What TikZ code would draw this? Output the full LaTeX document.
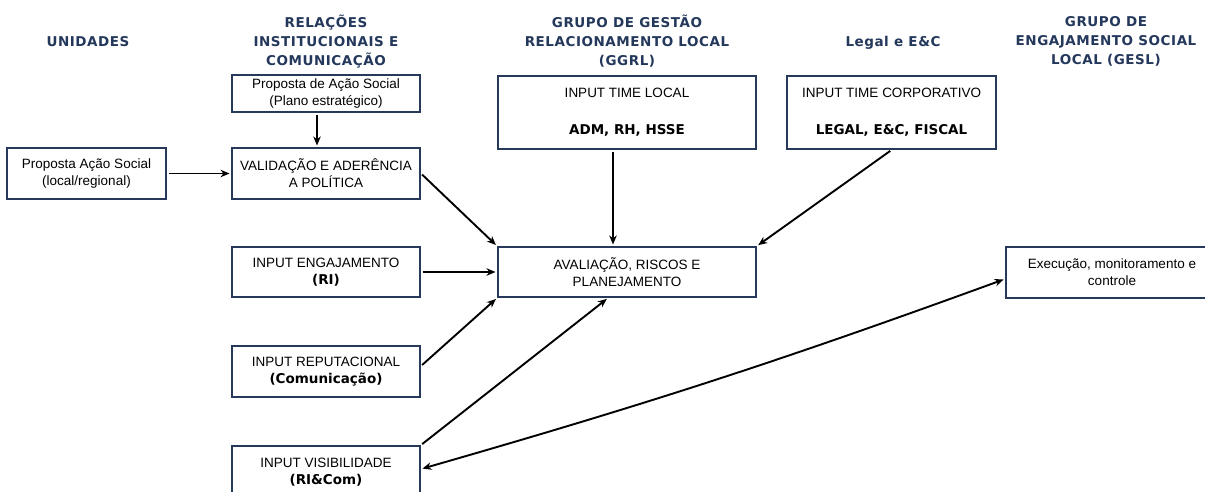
\documentclass[tikz,border=0pt]{standalone}
\usepackage{fontspec}
\setmainfont{Liberation Sans}
\newfontfamily\hdfont{DejaVu Sans}[LetterSpace=4]
\newfontfamily\bdfont{DejaVu Sans}
\usetikzlibrary{arrows.meta}
\definecolor{boxline}{HTML}{26395A}
\definecolor{hdcol}{HTML}{24385C}
\newcommand\bt[1]{{\bdfont\bfseries\fontsize{13.5}{17}\selectfont #1}}
\begin{document}
\begin{tikzpicture}[x=1pt,y=-1pt,
  box/.style={draw=boxline, line width=2pt, fill=white, align=center, inner sep=2pt,
    font=\fontsize{13.5}{17}\selectfont},
  header/.style={align=center, text=hdcol, font=\hdfont\bfseries\fontsize{13.5}{19}\selectfont},
  arr/.style={-{Stealth[length=9pt,width=7.5pt]}, line width=1.9pt, black, shorten <=1.5pt, shorten >=1.5pt},
  arrboth/.style={{Stealth[length=9pt,width=7.5pt]}-{Stealth[length=9pt,width=7.5pt]}, line width=1.9pt, black, shorten <=1.5pt, shorten >=1.5pt}]
\useasboundingbox (0,0) rectangle (1205,491);
\clip (0,0) rectangle (1205,491);
\fill[white] (0,0) rectangle (1205,491);

% headers
\node[header] (hUn) at (88,42) {UNIDADES};
\node[header] (hRI) at (326,41.5) {RELAÇÕES\\INSTITUCIONAIS E\\COMUNICAÇÃO};
\node[header] (hGG) at (627,41.5) {GRUPO DE GESTÃO\\RELACIONAMENTO LOCAL\\(GGRL)};
\node[header] (hLE) at (893,42.5) {Legal e E\&C};
\node[header] (hGE) at (1106,41.5) {GRUPO DE\\ENGAJAMENTO SOCIAL\\LOCAL (GESL)};

% boxes
\node[box, minimum width=159pt, minimum height=51pt] (local) at (86.5,173.5) {Proposta Ação Social\\(local/regional)};
\node[box, minimum width=188pt, minimum height=37pt] (plano) at (326,93.5) {Proposta de Ação Social\\(Plano estratégico)};
\node[box, minimum width=188pt, minimum height=51pt] (valid) at (326,173.5) {VALIDAÇÃO E ADERÊNCIA\\A POLÍTICA};
\node[box, minimum width=258pt, minimum height=73pt] (tlocal) at (627,112.5) {INPUT TIME LOCAL\\[20pt]\bt{ADM, RH, HSSE}};
\node[box, minimum width=209pt, minimum height=73pt] (tcorp) at (891.5,112.5) {INPUT TIME CORPORATIVO\\[20pt]\bt{LEGAL, E\&C, FISCAL}};
\node[box, minimum width=258pt, minimum height=50pt] (aval) at (627,272) {AVALIAÇÃO, RISCOS E\\PLANEJAMENTO};
\node[box, minimum width=188pt, minimum height=50pt] (engaj) at (326,272) {INPUT ENGAJAMENTO\\\bt{(RI)}};
\node[box, minimum width=188pt, minimum height=51pt] (reput) at (326,371.5) {INPUT REPUTACIONAL\\\bt{(Comunicação)}};
\node[box, minimum width=188pt, minimum height=52pt] (visib) at (326,472) {INPUT VISIBILIDADE\\\bt{(RI\&Com)}};
\node[box, minimum width=212pt, minimum height=51pt] (exec) at (1112,272.5) {Execução, monitoramento e\\controle};

% connectors
\draw[arr] (local.east) -- (valid.west);
\draw[arr] ([xshift=-9pt]plano.south) -- ([xshift=-9pt]valid.north);
\draw[arr] (valid.east) -- (aval.north west);
\draw[arr] ([xshift=-14pt]tlocal.south) -- ([xshift=-14pt]aval.north);
\draw[arr] (tcorp.south) -- (aval.north east);
\draw[arr] (engaj.east) -- (aval.west);
\draw[arr] ([yshift=5.5pt]reput.east) -- (aval.south west);
\draw[arr] (visib.north east) -- ([xshift=-19pt]aval.south);
\draw[arrboth] ([yshift=3pt]visib.east) to[bend right=2] ([yshift=-6.5pt]exec.west);
\end{tikzpicture}
\end{document}
